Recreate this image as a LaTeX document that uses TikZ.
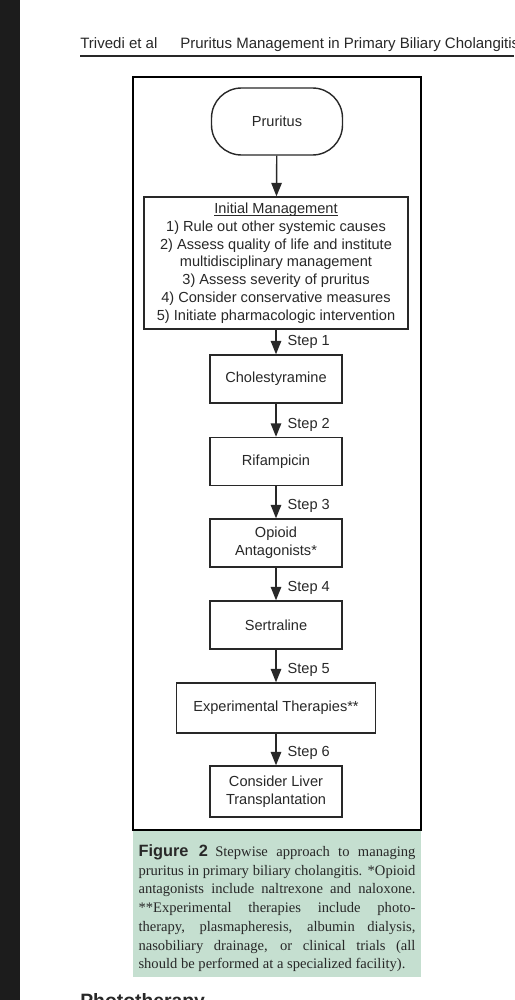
\documentclass[tikz,border=0pt]{standalone}
\usepackage{fontspec}
\setmainfont{Liberation Serif}
\setsansfont{Liberation Sans}
\usepackage{tikz}
\usetikzlibrary{arrows.meta, positioning}
\usepackage{xcolor}
\definecolor{capgreen}{RGB}{197,223,208}
\definecolor{inkgray}{RGB}{40,40,40}
\definecolor{stripdark}{RGB}{28,28,28}
\newcommand{\flowfont}{\sffamily\fontsize{8.3}{10.1}\selectfont}
\newcommand{\capfont}{\rmfamily\fontsize{8.3}{10.7}\selectfont}
\newcommand{\lowline}[1]{\sbox0{#1}\rlap{\rule[-1.2pt]{\wd0}{0.45pt}}\usebox0}
\tikzset{
    % Flowchart boxes
    startbox/.style={rectangle, rounded corners=0.6cm, draw=inkgray, line width=0.8pt,
                minimum width=2.62cm, minimum height=1.34cm, align=center,
                font=\flowfont, text=inkgray},
    flowbox/.style={rectangle, draw=inkgray, line width=0.8pt,
                minimum width=2.64cm, minimum height=0.96cm, align=center,
                font=\flowfont, text=inkgray},
    steparrow/.style={-{Triangle[length=0.27cm, width=0.21cm]}, line width=0.8pt, inkgray},
    steplbl/.style={at end, anchor=west, inner sep=0pt, xshift=0.22cm, yshift=0.24cm,
                font=\flowfont, text=inkgray},
    % Page parts
    headtext/.style={anchor=base west, inner sep=0pt, text=inkgray,
                font=\sffamily\fontsize{8.55}{10}\selectfont},
}

\begin{document}
\begin{tikzpicture}[x=0.02cm, y=-0.02cm]
\clip (0,0) rectangle (514,1000);
\fill[white] (0,0) rectangle (514,1000);
\fill[stripdark] (0,0) rectangle (20,1000);

% running head
\node[headtext] (auth)  at (80,49)  {Trivedi et al};
\node[headtext] (title) at (180,49) {Pruritus Management in Primary Biliary Cholangitis};
\draw[line width=0.6pt, inkgray] (80,56) -- (514,56);

% figure frame and caption
\draw[line width=1.4pt, black] (133,77) rectangle (421,830);
\fill[capgreen] (133,831) rectangle (421,977);

% flowchart
\node[startbox] (pru) at (277,121.5) {Pruritus};
\node[flowbox, minimum width=5.28cm, minimum height=2.64cm] (init) at (276,263)
    {\lowline{Initial Management}\\
     1) Rule out other systemic causes\\
     2) Assess quality of life and institute\\
     multidisciplinary management\\
     3) Assess severity of pruritus\\
     4) Consider conservative measures\\
     5) Initiate pharmacologic intervention};
\node[flowbox] (chol) at (276,379)   {Cholestyramine};
\node[flowbox] (rif)  at (276,461.5) {Rifampicin};
\node[flowbox] (opi)  at (276,543)   {Opioid\\Antagonists*};
\node[flowbox] (sert) at (276,625)   {Sertraline};
\node[flowbox, minimum width=3.98cm, minimum height=1.0cm] (exp) at (276,708)
    {Experimental Therapies**};
\node[flowbox, minimum height=1.02cm] (liv) at (276,791.5)
    {Consider Liver\\Transplantation};

\draw[steparrow] (pru)  -- (init);
\draw[steparrow] (init) -- node[steplbl] {Step 1} (chol);
\draw[steparrow] (chol) -- node[steplbl] {Step 2} (rif);
\draw[steparrow] (rif)  -- node[steplbl] {Step 3} (opi);
\draw[steparrow] (opi)  -- node[steplbl] {Step 4} (sert);
\draw[steparrow] (sert) -- node[steplbl] {Step 5} (exp);
\draw[steparrow] (exp)  -- node[steplbl] {Step 6} (liv);

\node[anchor=north, text width=5.54cm, align=justify, inner sep=0pt,
      font=\capfont, text=inkgray] (cap) at (277,844)
    {{\sffamily\bfseries\fontsize{9.3}{10.7}\selectfont Figure~2}\enspace Stepwise approach to managing\linebreak
     pruritus in primary biliary cholangitis. *Opioid\linebreak
     antagonists include naltrexone and naloxone.\linebreak
     **Experimental therapies include photo-\linebreak
     therapy, plasmapheresis, albumin dialysis,\linebreak
     nasobiliary drainage, or clinical trials (all\linebreak
     should be performed at a specialized facility).};

% next section heading, cut by the page edge
\node[anchor=north west, inner sep=0pt, text=inkgray,
      font=\sffamily\bfseries\fontsize{11}{13}\selectfont] (photo) at (80,993) {Phototherapy};
\end{tikzpicture}
\end{document}
